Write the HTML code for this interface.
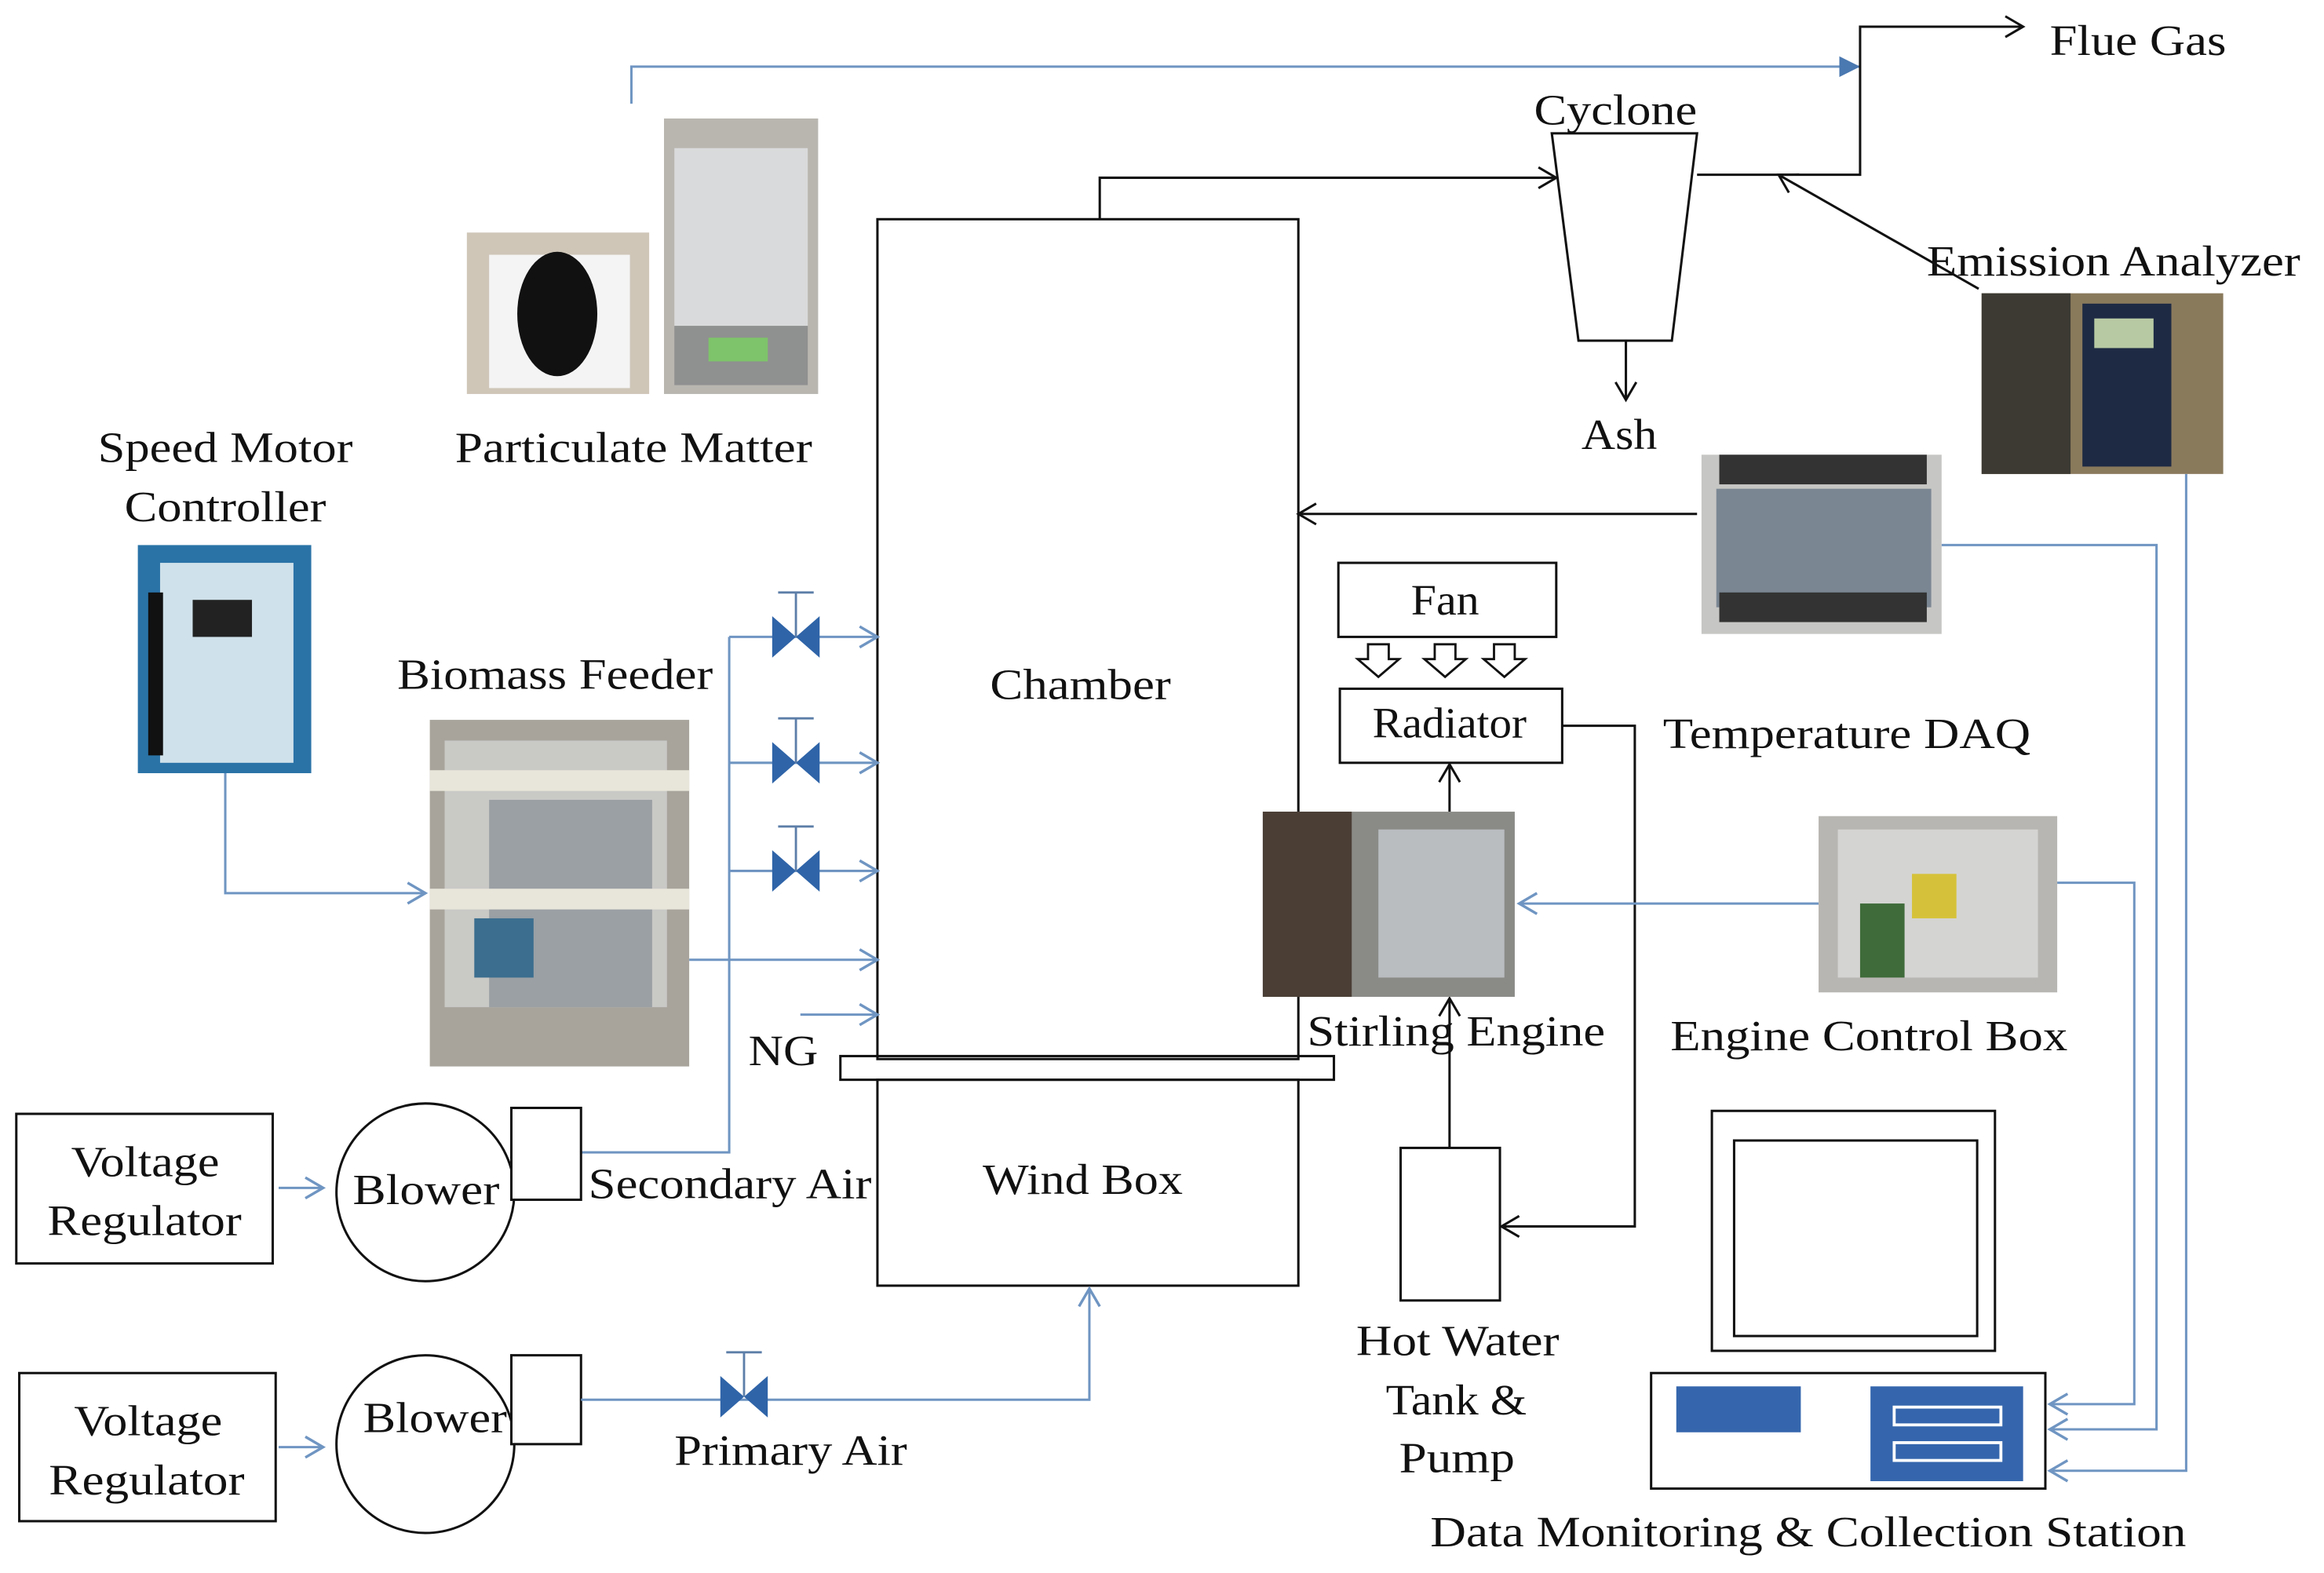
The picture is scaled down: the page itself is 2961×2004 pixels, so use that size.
<!DOCTYPE html>
<html><head><meta charset="utf-8"><style>
html,body{margin:0;padding:0;background:#fff;}
svg{display:block;}
text{font-family:"Liberation Serif",serif;font-size:29px;fill:#111;}
</style></head><body>
<svg width="2961" height="2004" viewBox="0 0 1568 1062" preserveAspectRatio="none" xmlns="http://www.w3.org/2000/svg">
<defs>
<marker id="ab" markerWidth="20" markerHeight="20" refX="14" refY="8" orient="auto" markerUnits="userSpaceOnUse"><polyline points="2,1 14,8 2,15" fill="none" stroke="#111" stroke-width="1.6"/></marker>
<marker id="au" markerWidth="20" markerHeight="20" refX="14" refY="8" orient="auto" markerUnits="userSpaceOnUse"><polyline points="2,1 14,8 2,15" fill="none" stroke="#6f95c2" stroke-width="1.8"/></marker>
<marker id="af" markerWidth="20" markerHeight="20" refX="14" refY="8" orient="auto" markerUnits="userSpaceOnUse"><polygon points="0,1 14,8 0,15" fill="#4a78b0"/></marker>
<g id="valve"><polygon points="-16,-14 -16,14 16,-14 16,14" fill="#2f64a8"/><line x1="0" y1="0" x2="0" y2="-30" stroke="#5c7ea8" stroke-width="1.5"/><line x1="-12" y1="-30" x2="12" y2="-30" stroke="#5c7ea8" stroke-width="1.5"/></g>
<g id="dn"><polygon points="-7,0 7,0 7,10 14,10 0,22 -14,10 -7,10" fill="#fff" stroke="#111" stroke-width="1.5"/></g>
</defs>
<g fill="none" stroke-width="1.6">
<polyline points="426,70 426,45 1255,45" stroke="#6f95c2" marker-end="url(#af)"/>
<polyline points="1145,118 1255,118 1255,18 1365,18" stroke="#111" marker-end="url(#ab)"/>
<polygon points="1047,90 1145,90 1128,230 1065,230" stroke="#111"/>
<line x1="1097" y1="230" x2="1097" y2="270" stroke="#111" marker-end="url(#ab)"/>
<polyline points="742,148 742,120 1050,120" stroke="#111" marker-end="url(#ab)"/>
<line x1="1335" y1="195" x2="1200" y2="118" stroke="#111" marker-end="url(#ab)"/>
<rect x="592" y="148" width="284" height="567" stroke="#111"/>
<rect x="567" y="713" width="333" height="16" stroke="#111"/>
<rect x="592" y="729" width="284" height="139" stroke="#111"/>
<line x1="1145" y1="347" x2="876" y2="347" stroke="#111" marker-end="url(#ab)"/>
<rect x="903" y="380" width="147" height="50" stroke="#111"/>
<rect x="904" y="465" width="150" height="50" stroke="#111"/>
<polyline points="1054,490 1103,490 1103,828 1013,828" stroke="#111" marker-end="url(#ab)"/>
<line x1="978" y1="548" x2="978" y2="516" stroke="#111" marker-end="url(#ab)"/>
<rect x="945" y="775" width="67" height="103" stroke="#111"/>
<line x1="978" y1="775" x2="978" y2="674" stroke="#111" marker-end="url(#ab)"/>
<line x1="1227" y1="610" x2="1025" y2="610" stroke="#6f95c2" marker-end="url(#au)"/>
<rect x="1155" y="750" width="191" height="162" stroke="#111"/>
<rect x="1170" y="770" width="164" height="132" stroke="#111"/>
<rect x="1114" y="927" width="266" height="78" stroke="#111"/>
<polyline points="1310,368 1455,368 1455,965 1383,965" stroke="#6f95c2" marker-end="url(#au)"/>
<polyline points="1388,596 1440,596 1440,948 1383,948" stroke="#6f95c2" marker-end="url(#au)"/>
<polyline points="1475,320 1475,993 1383,993" stroke="#6f95c2" marker-end="url(#au)"/>
<polyline points="152,522 152,603 287,603" stroke="#6f95c2" marker-end="url(#au)"/>
<line x1="465" y1="648" x2="592" y2="648" stroke="#6f95c2" marker-end="url(#au)"/>
<line x1="540" y1="685" x2="592" y2="685" stroke="#6f95c2" marker-end="url(#au)"/>
<polyline points="392,778 492,778 492,430" stroke="#6f95c2"/>
<line x1="492" y1="430" x2="592" y2="430" stroke="#6f95c2" marker-end="url(#au)"/>
<line x1="492" y1="515" x2="592" y2="515" stroke="#6f95c2" marker-end="url(#au)"/>
<line x1="492" y1="588" x2="592" y2="588" stroke="#6f95c2" marker-end="url(#au)"/>
<circle cx="287" cy="805" r="60" stroke="#111"/>
<rect x="345" y="748" width="47" height="62" stroke="#111" fill="#fff"/>
<circle cx="287" cy="975" r="60" stroke="#111"/>
<rect x="345" y="915" width="47" height="60" stroke="#111" fill="#fff"/>
<rect x="11" y="752" width="173" height="101" stroke="#111"/>
<rect x="13" y="927" width="173" height="100" stroke="#111"/>
<line x1="188" y1="802" x2="218" y2="802" stroke="#6f95c2" marker-end="url(#au)"/>
<line x1="188" y1="977" x2="218" y2="977" stroke="#6f95c2" marker-end="url(#au)"/>
<polyline points="392,945 735,945 735,870" stroke="#6f95c2" marker-end="url(#au)"/>
</g>
<rect x="1131" y="936" width="84" height="31" fill="#3566ad"/>
<rect x="1262" y="936" width="103" height="64" fill="#3566ad"/>
<rect x="1278" y="950" width="72" height="12" fill="none" stroke="#fff" stroke-width="2"/>
<rect x="1278" y="974" width="72" height="12" fill="none" stroke="#fff" stroke-width="2"/>
<use href="#valve" x="537" y="430"/><use href="#valve" x="537" y="515"/><use href="#valve" x="537" y="588"/>
<use href="#valve" x="502" y="943"/>
<use href="#dn" x="930" y="435"/><use href="#dn" x="975" y="435"/><use href="#dn" x="1015" y="435"/>
<rect x="315" y="157" width="123" height="109" fill="#cfc6b8"/><rect x="330" y="172" width="95" height="90" fill="#f4f4f4"/><ellipse cx="376" cy="212" rx="27" ry="42" fill="#111"/>
<rect x="448" y="80" width="104" height="186" fill="#b9b6b0"/><rect x="455" y="100" width="90" height="120" fill="#d9dadb"/><rect x="455" y="220" width="90" height="40" fill="#8f9090"/><rect x="478" y="228" width="40" height="16" fill="#7ec46a"/>
<rect x="93" y="368" width="117" height="154" fill="#2a73a7"/><rect x="108" y="380" width="90" height="135" fill="#cfe1ea"/><rect x="130" y="405" width="40" height="25" fill="#222"/><rect x="100" y="400" width="10" height="110" fill="#111"/>
<rect x="290" y="486" width="175" height="234" fill="#a8a49c"/><rect x="300" y="500" width="150" height="180" fill="#c9c9c6"/><rect x="330" y="540" width="110" height="140" fill="#9aa0a4"/><rect x="290" y="520" width="175" height="14" fill="#e8e5da"/><rect x="290" y="600" width="175" height="14" fill="#e8e5da"/><rect x="320" y="620" width="40" height="40" fill="#3b6e8f"/>
<rect x="852" y="548" width="170" height="125" fill="#8a8a87"/><rect x="852" y="548" width="60" height="125" fill="#4a3e35"/><rect x="930" y="560" width="85" height="100" fill="#b9bdc0"/>
<rect x="1148" y="307" width="162" height="121" fill="#c6c6c4"/><rect x="1158" y="330" width="145" height="80" fill="#7a8692"/><rect x="1160" y="307" width="140" height="20" fill="#333"/><rect x="1160" y="400" width="140" height="20" fill="#333"/>
<rect x="1337" y="198" width="163" height="122" fill="#8a7a5c"/><rect x="1405" y="205" width="60" height="110" fill="#1e2a44"/><rect x="1413" y="215" width="40" height="20" fill="#b7c9a2"/><rect x="1337" y="198" width="60" height="122" fill="#3c3a33"/>
<rect x="1227" y="551" width="161" height="119" fill="#b8b6b2"/><rect x="1240" y="560" width="135" height="100" fill="#d4d4d2"/><rect x="1290" y="590" width="30" height="30" fill="#d6c23a"/><rect x="1255" y="610" width="30" height="50" fill="#3f6b3a"/>
<g lengthAdjust="spacingAndGlyphs">
<text x="1383" y="37" textLength="119" lengthAdjust="spacingAndGlyphs">Flue Gas</text>
<text x="1035" y="84" textLength="110" lengthAdjust="spacingAndGlyphs">Cyclone</text>
<text x="1067" y="303" textLength="51" lengthAdjust="spacingAndGlyphs">Ash</text>
<text x="1300" y="186" textLength="252" lengthAdjust="spacingAndGlyphs">Emission Analyzer</text>
<text x="668" y="472" textLength="122" lengthAdjust="spacingAndGlyphs">Chamber</text>
<text x="663" y="806" textLength="135" lengthAdjust="spacingAndGlyphs">Wind Box</text>
<text x="952" y="415" textLength="46" lengthAdjust="spacingAndGlyphs">Fan</text>
<text x="926" y="498" textLength="104" lengthAdjust="spacingAndGlyphs">Radiator</text>
<text x="1122" y="505" textLength="248" lengthAdjust="spacingAndGlyphs">Temperature DAQ</text>
<text x="882" y="706" textLength="201" lengthAdjust="spacingAndGlyphs">Stirling Engine</text>
<text x="1127" y="709" textLength="268" lengthAdjust="spacingAndGlyphs">Engine Control Box</text>
<text x="915" y="915" textLength="137" lengthAdjust="spacingAndGlyphs">Hot Water</text>
<text x="935" y="955" textLength="95" lengthAdjust="spacingAndGlyphs">Tank &amp;</text>
<text x="944" y="994" textLength="78" lengthAdjust="spacingAndGlyphs">Pump</text>
<text x="965" y="1044" textLength="510" lengthAdjust="spacingAndGlyphs">Data Monitoring &amp; Collection Station</text>
<text x="66" y="312" textLength="172" lengthAdjust="spacingAndGlyphs">Speed Motor</text>
<text x="84" y="352" textLength="136" lengthAdjust="spacingAndGlyphs">Controller</text>
<text x="307" y="312" textLength="241" lengthAdjust="spacingAndGlyphs">Particulate Matter</text>
<text x="268" y="465" textLength="213" lengthAdjust="spacingAndGlyphs">Biomass Feeder</text>
<text x="505" y="719" textLength="47" lengthAdjust="spacingAndGlyphs">NG</text>
<text x="397" y="809" textLength="191" lengthAdjust="spacingAndGlyphs">Secondary Air</text>
<text x="455" y="989" textLength="157" lengthAdjust="spacingAndGlyphs">Primary Air</text>
<text x="238" y="813" textLength="99" lengthAdjust="spacingAndGlyphs">Blower</text>
<text x="245" y="967" textLength="97" lengthAdjust="spacingAndGlyphs">Blower</text>
<text x="48" y="794" textLength="100" lengthAdjust="spacingAndGlyphs">Voltage</text>
<text x="32" y="834" textLength="131" lengthAdjust="spacingAndGlyphs">Regulator</text>
<text x="50" y="969" textLength="100" lengthAdjust="spacingAndGlyphs">Voltage</text>
<text x="33" y="1009" textLength="132" lengthAdjust="spacingAndGlyphs">Regulator</text>
</g>
</svg>
</body></html>
